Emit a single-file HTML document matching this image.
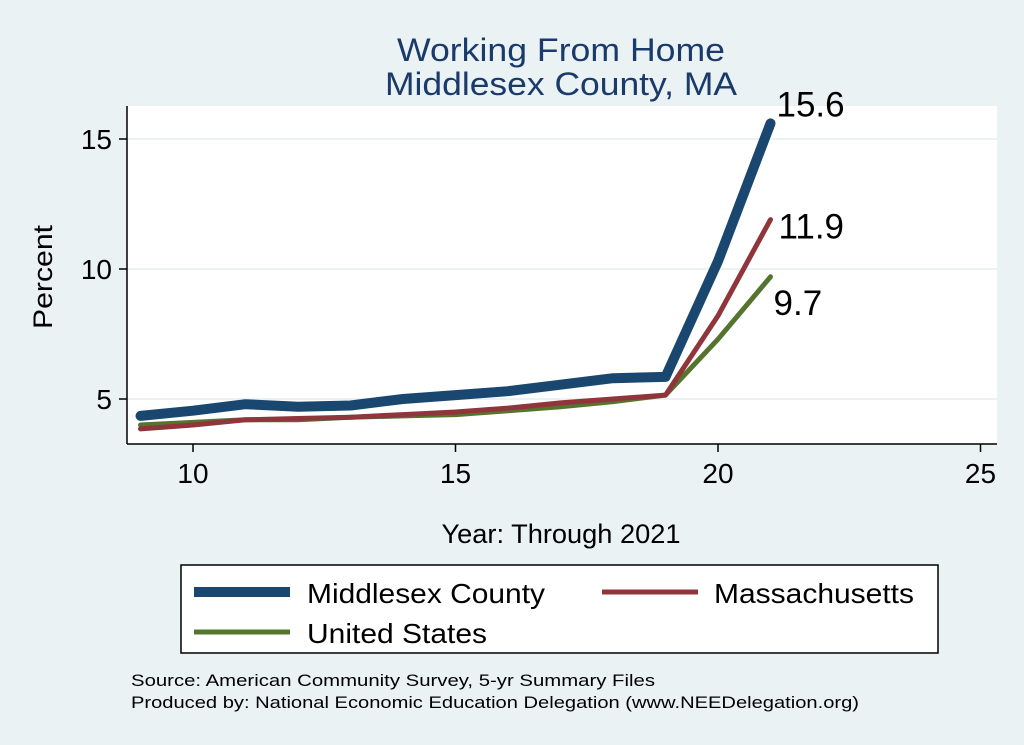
<!DOCTYPE html>
<html><head><meta charset="utf-8"><style>
body{margin:0;background:#eaf2f3;}
svg{display:block;font-family:"Liberation Sans",Arial,sans-serif;}
</style></head><body>
<svg id="chart" width="1024" height="745" viewBox="0 0 1024 745">
<rect width="1024" height="745" fill="#eaf2f3"/>
<rect x="127" y="106" width="870" height="338" fill="#fff"/>
<text x="561" y="61" font-size="32" fill="#1a3a6b" text-anchor="middle" textLength="328" lengthAdjust="spacingAndGlyphs">Working From Home</text>
<text x="561" y="95" font-size="32" fill="#1a3a6b" text-anchor="middle" textLength="352" lengthAdjust="spacingAndGlyphs">Middlesex County, MA</text>
<g id="grid"></g><g id="axes"></g><g id="series"></g>
<text transform="translate(52,277) rotate(-90)" font-size="27" text-anchor="middle" textLength="104" lengthAdjust="spacingAndGlyphs">Percent</text>
<text x="561" y="543" font-size="27" text-anchor="middle" textLength="239" lengthAdjust="spacingAndGlyphs">Year: Through 2021</text>
<g>
<rect x="181" y="565" width="757" height="88" fill="#fff" stroke="#000" stroke-width="1.5"/>
<line x1="194" y1="592" x2="290" y2="592" stroke="#1a476f" stroke-width="10"/>
<text x="307" y="603" font-size="28" textLength="238" lengthAdjust="spacingAndGlyphs">Middlesex County</text>
<line x1="602" y1="592" x2="698" y2="592" stroke="#90353b" stroke-width="5"/>
<text x="714" y="603" font-size="28" textLength="200" lengthAdjust="spacingAndGlyphs">Massachusetts</text>
<line x1="194" y1="632" x2="290" y2="632" stroke="#55752f" stroke-width="5"/>
<text x="307" y="643" font-size="28" textLength="180" lengthAdjust="spacingAndGlyphs">United States</text>
</g>
<text x="131" y="686" font-size="17" textLength="524" lengthAdjust="spacingAndGlyphs">Source: American Community Survey, 5-yr Summary Files</text>
<text x="131" y="708" font-size="17" textLength="728" lengthAdjust="spacingAndGlyphs">Produced by: National Economic Education Delegation (www.NEEDelegation.org)</text>
</svg>
<script>
const years=[9,10,11,12,13,14,15,16,17,18,19,20,21];
const middlesex=[4.35,4.55,4.8,4.7,4.75,5.0,5.15,5.3,5.55,5.8,5.85,10.3,15.6];
const massachusetts=[3.85,4.0,4.2,4.25,4.3,4.4,4.5,4.65,4.85,5.0,5.15,8.2,11.9];
const unitedStates=[4.0,4.1,4.2,4.2,4.3,4.35,4.4,4.55,4.7,4.9,5.15,7.3,9.7];
const xTicks=[10,15,20,25];
const yTicks=[5,10,15];
const endLabels=["15.6","11.9","9.7"];
const NS="http://www.w3.org/2000/svg";
const X=v=>193+(v-10)*52.5;
const Y=v=>399-(v-5)*26;
function mk(t,a,p){const e=document.createElementNS(NS,t);for(const k in a)e.setAttribute(k,a[k]);p.appendChild(e);return e;}
const grid=document.getElementById('grid'),axes=document.getElementById('axes'),ser=document.getElementById('series');
yTicks.forEach(v=>{
 const g=mk('line',{x1:127,x2:997,y1:Y(v),y2:Y(v),stroke:'#eaf2f3','stroke-width':2},grid);
 
 
 const t=mk('line',{x1:119,x2:127,y1:Y(v),y2:Y(v),stroke:'#000','stroke-width':1.5},axes);
 
 
 const l=mk('text',{x:112,y:Y(v)+10,'font-size':28,'text-anchor':'end'},axes);l.textContent=v;
 
 
});
xTicks.forEach(v=>{
 const t=mk('line',{x1:X(v),x2:X(v),y1:444,y2:452,stroke:'#000','stroke-width':1.5},axes);
 
 
 const l=mk('text',{x:X(v),y:483,'font-size':28,'text-anchor':'middle'},axes);l.textContent=v;
 
 
});
const ya=mk('line',{x1:127,x2:127,y1:106,y2:444,stroke:'#000','stroke-width':1.5},axes);


const xa=mk('line',{x1:127,x2:997,y1:444,y2:444,stroke:'#000','stroke-width':1.5},axes);


const S=[[middlesex,'#1a476f',10,'line-middlesex',-7,6],[massachusetts,'#90353b',5,'line-massachusetts',19,8],[unitedStates,'#55752f',5,'line-us',38,3]];
[2,1,0].forEach(i=>{
 const [d,c,w,n,dy,dx]=S[i];
 const p=mk('polyline',{points:d.map((v,j)=>X(years[j])+','+Y(v)).join(' '),fill:'none',stroke:c,'stroke-width':w,'stroke-linejoin':'round','stroke-linecap':'round'},ser);
 
 
 const last=d.length-1;
 const t=mk('text',{x:X(years[last])+dx,y:Y(d[last])+dy,'font-size':35},ser);
 t.textContent=endLabels[i];
 
 
});
</script>
</body></html>
